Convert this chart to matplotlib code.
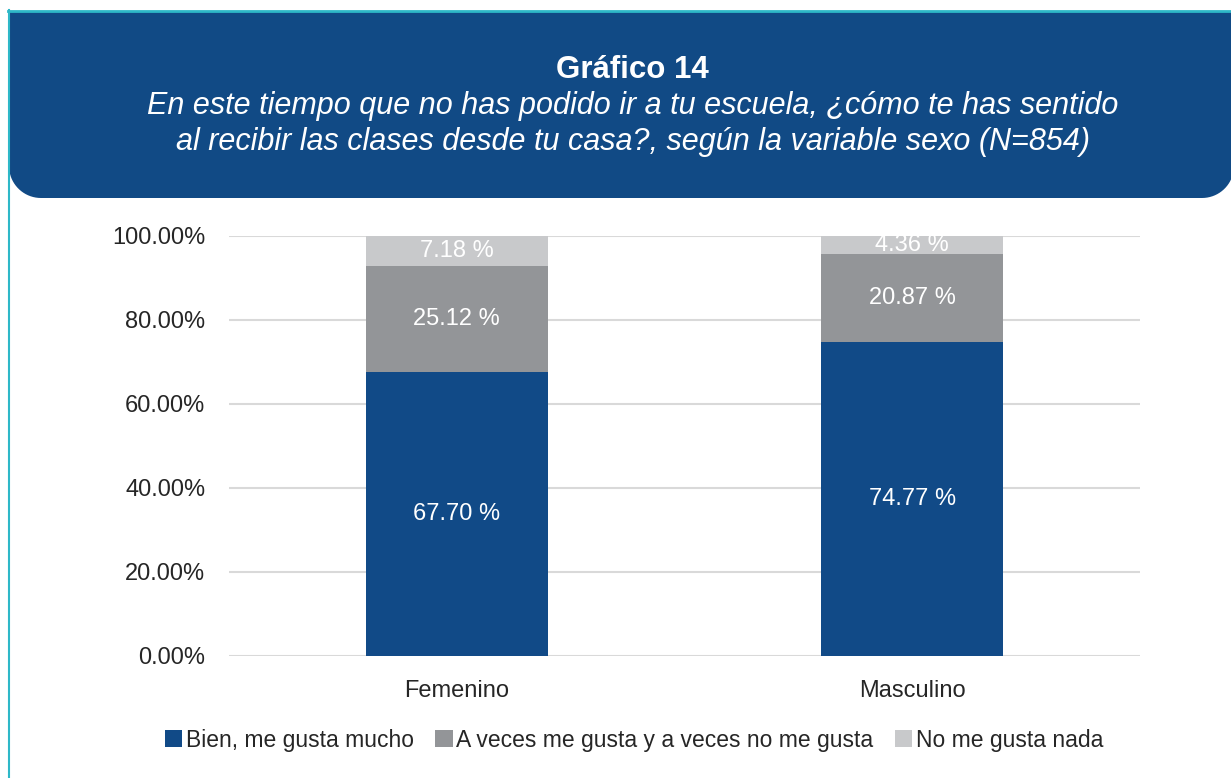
import matplotlib.pyplot as plt
import numpy as np
from matplotlib.patches import Polygon

plt.rcParams['font.family'] = ['Liberation Sans', 'DejaVu Sans']

categorias = ['Femenino', 'Masculino']
bien = [67.70, 74.77]
a_veces = [25.12, 20.87]
nada = [7.18, 4.36]
series = ['Bien, me gusta mucho', 'A veces me gusta y a veces no me gusta', 'No me gusta nada']
colores = ['#114A87', '#939598', '#C8C9CB']
ticks = [0, 20, 40, 60, 80, 100]

W, H = 1231, 778
fig = plt.figure(figsize=(W / 100, H / 100), dpi=100)

# capa de fondo en pixeles para la cabecera
bg = fig.add_axes([0, 0, 1, 1], zorder=0)
bg.set_xlim(0, W)
bg.set_ylim(H, 0)
bg.axis('off')

# banda azul con esquinas inferiores redondeadas
r = 32
x0, x1, y0, y1 = 9, 1234, 12, 198
t = np.linspace(0, np.pi / 2, 20)
pts = [(x0, y0), (x1, y0)]
pts += [(x1 - r + r * np.cos(a), y1 - r + r * np.sin(a)) for a in t]
pts += [(x0 + r - r * np.sin(a), y1 - r + r * np.cos(a)) for a in t]
bg.add_patch(Polygon(pts, closed=True, facecolor='#114A85', edgecolor='none'))
bg.plot([x0 - 1, W], [10.5, 10.5], color='#2EB8C8', lw=2)
bg.plot([8.5, 8.5], [10, H], color='#2EB8C8', lw=1.5)

bg.text(W / 2 + 17, 70, 'Gráfico 14', color='white', fontsize=22.5, fontweight='bold',
        ha='center', va='center')
bg.text(W / 2 + 17, 106, 'En este tiempo que no has podido ir a tu escuela, ¿cómo te has sentido',
        color='white', fontsize=22, style='italic', ha='center', va='center')
bg.text(W / 2 + 17, 142, 'al recibir las clases desde tu casa?, según la variable sexo (N=854)',
        color='white', fontsize=22, style='italic', ha='center', va='center')

# grafico
ax = fig.add_axes([229 / W, (H - 656) / H, (1140 - 229) / W, (656 - 236) / H], zorder=1)
ax.patch.set_alpha(0)
x = np.arange(len(categorias))
w = 0.4
bottom = np.zeros(len(categorias))
for vals, col, lab in zip([bien, a_veces, nada], colores, series):
    ax.bar(x, vals, w, bottom=bottom, color=col, label=lab, zorder=2)
    for xi, b, v in zip(x, bottom, vals):
        ax.text(xi, b + v / 2, f'{v:.2f} %', color='white', fontsize=17,
                ha='center', va='center', zorder=3)
    bottom = bottom + np.array(vals)

ax.set_xlim(-0.5, 1.5)
ax.set_ylim(0, 100)
ax.set_yticks(ticks)
ax.set_yticklabels([f'{v:.2f}%' for v in ticks], fontsize=17, color='#262626')
ax.set_xticks(x)
ax.set_xticklabels(categorias, fontsize=17, color='#262626')
ax.grid(axis='y', color='#D9D9D9', lw=1.5, zorder=0)
ax.tick_params(length=0)
ax.tick_params(axis='y', pad=17)
ax.tick_params(axis='x', pad=17)
for s in ax.spines.values():
    s.set_visible(False)

leg = ax.legend(loc='center', bbox_to_anchor=(634 / W, (H - 740) / H),
                bbox_transform=fig.transFigure, ncol=3, frameon=False, fontsize=16.5,
                handlelength=0.75, handleheight=0.75, handletextpad=0.15, columnspacing=0.95)
for txt in leg.get_texts():
    txt.set_color('#262626')

fig.savefig('out.png', dpi=100)
